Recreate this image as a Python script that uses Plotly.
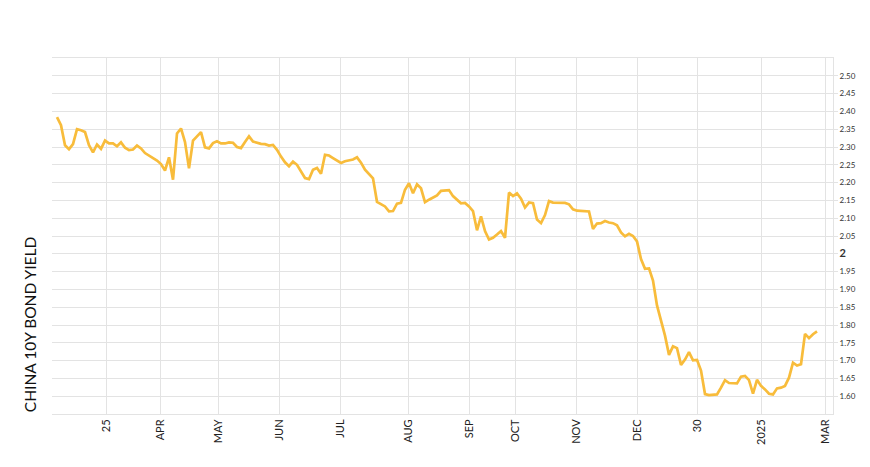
import plotly.graph_objects as go

yields = [
    2.384, 2.361, 2.305, 2.294, 2.308, 2.350, 2.347, 2.342, 2.305, 2.285,
    2.307, 2.295, 2.318, 2.310, 2.310, 2.302, 2.313, 2.298, 2.291, 2.293,
    2.304, 2.296, 2.283, 2.276, 2.269, 2.262, 2.252, 2.234, 2.271, 2.208,
    2.338, 2.352, 2.314, 2.240, 2.318, 2.330, 2.342, 2.299, 2.296, 2.311,
    2.316, 2.310, 2.310, 2.313, 2.312, 2.300, 2.297, 2.314, 2.330, 2.315,
    2.311, 2.309, 2.308, 2.304, 2.306, 2.292, 2.273, 2.257, 2.246, 2.259,
    2.250, 2.231, 2.213, 2.210, 2.236, 2.241, 2.225, 2.278, 2.276, 2.269,
    2.262, 2.255, 2.260, 2.262, 2.265, 2.271, 2.256, 2.236, 2.225, 2.212,
    2.146, 2.140, 2.133, 2.119, 2.120, 2.141, 2.143, 2.180, 2.198, 2.170,
    2.195, 2.184, 2.145, 2.152, 2.159, 2.164, 2.177, 2.178, 2.179, 2.162,
    2.151, 2.142, 2.143, 2.133, 2.120, 2.066, 2.105, 2.064, 2.040, 2.045,
    2.054, 2.064, 2.045, 2.172, 2.162, 2.170, 2.155, 2.130, 2.144, 2.142,
    2.096, 2.086, 2.109, 2.148, 2.144, 2.144, 2.144, 2.143, 2.139, 2.125,
    2.121, 2.121, 2.121, 2.119, 2.070, 2.085, 2.086, 2.092, 2.088, 2.086,
    2.080, 2.060, 2.049, 2.056, 2.050, 2.035, 1.985, 1.958, 1.959, 1.925,
    1.855, 1.815, 1.770, 1.716, 1.740, 1.735, 1.688, 1.703, 1.724, 1.701,
    1.702, 1.672, 1.606, 1.603, 1.605, 1.605, 1.624, 1.645, 1.637, 1.636,
    1.636, 1.655, 1.657, 1.645, 1.607, 1.646, 1.629, 1.619, 1.607, 1.605,
    1.622, 1.624, 1.629, 1.652, 1.694, 1.686, 1.690, 1.775, 1.763, 1.774,
    1.782,
]
days = list(range(len(yields)))

# x tick labels and the sample index at which each falls
x_tick_labels = ["25", "APR", "MAY", "JUN", "JUL", "AUG", "SEP", "OCT", "NOV", "DEC", "30", "2025", "MAR"]
x_tick_days = [12.4, 25.9, 40.4, 55.6, 70.9, 87.8, 103.1, 114.6, 129.8, 145.0, 160.2, 176.0, 192.2]

# y ticks
y_tick_vals = [1.60, 1.65, 1.70, 1.75, 1.80, 1.85, 1.90, 1.95, 2.00, 2.05,
               2.10, 2.15, 2.20, 2.25, 2.30, 2.35, 2.40, 2.45, 2.50]
y_tick_text = ["<b style='font-size:11px'>2</b>" if abs(v - 2.0) < 1e-9 else f"{v:.2f}" for v in y_tick_vals]

fig = go.Figure()
fig.add_trace(go.Scatter(
    x=days, y=yields, mode="lines",
    line=dict(color="#F8BC3B", width=2.7),
    hoverinfo="skip", showlegend=False,
))

grid = "#e3e3e3"
fig.update_layout(
    width=862, height=459,
    margin=dict(l=44, r=37, t=50, b=53, autoexpand=False),
    paper_bgcolor="white", plot_bgcolor="white",
    font=dict(family="Lato, 'Open Sans', sans-serif", color="#222"),
    xaxis=dict(
        range=[-1.25, 194.0],
        tickmode="array", tickvals=x_tick_days, ticktext=x_tick_labels,
        tickangle=-90, tickfont=dict(size=11, color="#222"),
        showgrid=True, gridcolor=grid, gridwidth=1,
        showline=True, linecolor=grid, linewidth=1, mirror=True,
        ticks="", zeroline=False, automargin=False,
    ),
    yaxis=dict(
        range=[1.55, 2.55], side="right",
        tickmode="array", tickvals=y_tick_vals, ticktext=y_tick_text,
        tickfont=dict(size=8, color="#333"),
        showgrid=True, gridcolor=grid, gridwidth=1,
        showline=True, linecolor=grid, linewidth=1,
        ticks="outside", ticklen=4, tickcolor=grid,
        zeroline=False, automargin=False,
    ),
    annotations=[dict(
        text="CHINA 10Y BOND YIELD", textangle=-90,
        xref="paper", yref="paper", x=-0.028, y=0.0,
        xanchor="center", yanchor="bottom", showarrow=False,
        font=dict(size=15.5, color="#111", family="Lato, 'Open Sans', sans-serif"),
    )],
)

fig.write_html("out.html")
